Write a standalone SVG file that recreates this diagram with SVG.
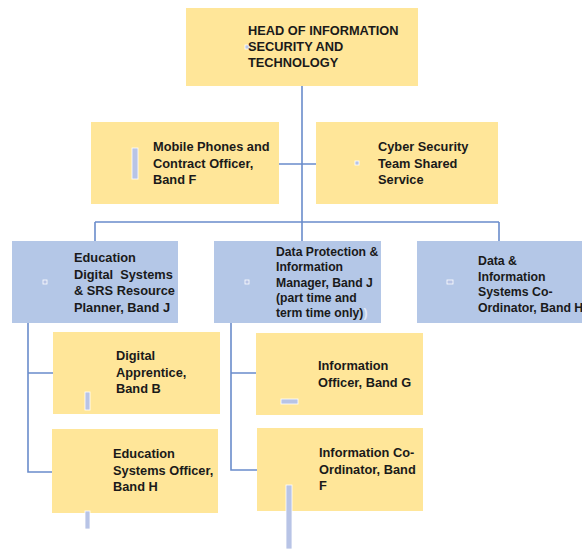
<svg xmlns="http://www.w3.org/2000/svg" width="582" height="549" viewBox="0 0 582 549">
<style>
.y{fill:#FFE699}
.b{fill:#B4C7E7}
.t{font-family:"Liberation Sans",Arial,sans-serif;font-weight:bold;font-size:12.8px;fill:#1a1a1a}
.s{font-size:12.2px}
.c{stroke:#6a8ccb;stroke-width:1.6;fill:none}
.a{fill:#b8c4e6;stroke:#ffffff;stroke-width:0.8}
</style>
<rect width="582" height="549" fill="#ffffff"/>
<g id="connectors">
<path class="c" d="M302 86V222M279 164H316M95 222H499M95 222V241M302 222V241M499 222V241"/>
<path class="c" d="M28 323V472H52M28 373H53"/>
<path class="c" d="M231 323V470H257M231 373H256"/>
</g>
<g id="head">
<rect class="y" x="186" y="8" width="232" height="78"/>
<rect class="a" x="245" y="45" width="4" height="4"/>
<text class="t" x="248" y="35">HEAD OF INFORMATION<tspan x="248" dy="16">SECURITY AND</tspan><tspan x="248" dy="16">TECHNOLOGY</tspan></text>
</g>
<g id="mobile">
<rect class="y" x="91" y="122" width="188" height="82"/>
<rect class="a" x="132" y="148" width="6" height="31"/>
<text class="t" x="153" y="151">Mobile Phones and<tspan x="153" dy="16.5">Contract Officer,</tspan><tspan x="153" dy="16.5">Band F</tspan></text>
</g>
<g id="cyber">
<rect class="y" x="316" y="122" width="182" height="82"/>
<rect class="a" x="355" y="161" width="4" height="4"/>
<text class="t" x="378" y="151">Cyber Security<tspan x="378" dy="16.5">Team Shared</tspan><tspan x="378" dy="16.5">Service</tspan></text>
</g>
<g id="edudigital">
<rect class="b" x="12" y="241" width="166" height="82"/>
<rect class="a" x="43" y="280" width="4" height="4"/>
<text class="t" x="74" y="262">Education<tspan x="74" dy="16.5">Digital&#160; Systems</tspan><tspan x="74" dy="16.5">&amp; SRS Resource</tspan><tspan x="74" dy="16.5">Planner, Band J</tspan></text>
</g>
<g id="dataprotection">
<rect class="b" x="214" y="241" width="167" height="82"/>
<rect class="a" x="245" y="280" width="4" height="4"/>
<text class="t s" x="276" y="256">Data Protection &amp;<tspan x="276" dy="15.3">Information</tspan><tspan x="276" dy="15.3">Manager, Band J</tspan><tspan x="276" dy="15.3">(part time and</tspan><tspan x="276" dy="15.3">term time only)<tspan fill="#e4eaf6">)</tspan></tspan></text>
</g>
<g id="datainfo">
<rect class="b" x="417" y="241" width="165" height="82"/>
<rect class="a" x="447" y="280" width="6" height="4"/>
<text class="t" x="478" y="265" style="font-size:12.3px">Data &amp;<tspan x="478" dy="15.5">Information</tspan><tspan x="478" dy="15.5">Systems Co-</tspan><tspan x="478" dy="15.5">Ordinator, Band H</tspan></text>
</g>
<g id="apprentice">
<rect class="y" x="53" y="332" width="167" height="82"/>
<rect class="a" x="85" y="392" width="5" height="18"/>
<text class="t" x="116" y="360">Digital<tspan x="116" dy="16.5">Apprentice,</tspan><tspan x="116" dy="16.5">Band B</tspan></text>
</g>
<g id="edusystems">
<rect class="y" x="52" y="429" width="166" height="84"/>
<rect class="a" x="85" y="511" width="5" height="18"/>
<text class="t" x="113" y="458">Education<tspan x="113" dy="16.5">Systems Officer,</tspan><tspan x="113" dy="16.5">Band H</tspan></text>
</g>
<g id="infoofficer">
<rect class="y" x="256" y="333" width="167" height="82"/>
<rect class="a" x="281" y="399" width="17" height="5"/>
<text class="t" x="318" y="370">Information<tspan x="318" dy="16.5">Officer, Band G</tspan></text>
</g>
<g id="infocoord">
<rect class="y" x="257" y="428" width="166" height="83"/>
<rect class="a" x="286" y="485" width="6" height="64"/>
<text class="t" x="319" y="457">Information Co-<tspan x="319" dy="16.5">Ordinator, Band</tspan><tspan x="319" dy="16.5">F</tspan></text>
</g>
</svg>
